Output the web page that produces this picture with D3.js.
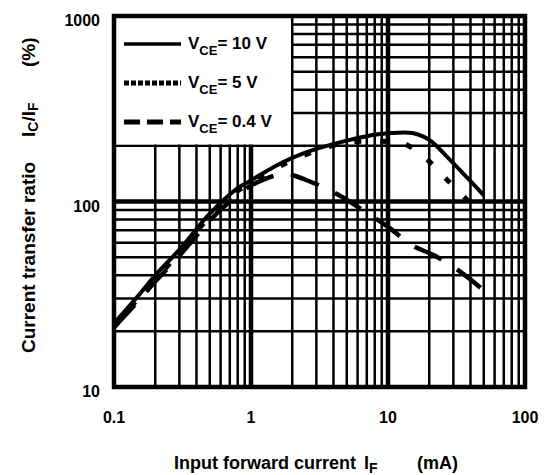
<!DOCTYPE html>
<html><head><meta charset="utf-8">
<script src="https://cdn.jsdelivr.net/npm/d3@7"></script>
<style>
html,body{margin:0;padding:0;background:#fff;}
text{font-family:"Liberation Sans",Arial,sans-serif;font-weight:bold;fill:#000;}
</style></head>
<body>
<svg id="c" width="544" height="475"></svg>
<script>
// ---- data ----
const xTicks = [0.1, 1, 10, 100];
const xTickLabels = ["0.1", "1", "10", "100"];
const yTicks = [10, 100, 1000];
const yTickLabels = ["10", "100", "1000"];

const iF10 = [0.1, 0.15, 0.2, 0.3, 0.5, 0.8, 1, 1.5, 2, 3, 5, 7, 10, 15, 20, 27, 38, 50];
const ctr10 = [22, 31, 40, 55, 86, 118, 130, 155, 172, 192, 213, 225, 233, 234, 215, 174, 134, 108];

const iF5 = [0.1, 0.15, 0.2, 0.3, 0.5, 0.8, 1, 1.5, 2, 3, 5, 8, 13, 19, 27, 40];
const ctr5 = [21, 30, 38, 53, 83, 114, 126, 150, 167, 188, 208, 211, 205, 170, 131, 98];

const iF04 = [0.1, 0.15, 0.2, 0.3, 0.5, 0.7, 1, 1.4, 1.7, 2, 2.5, 3.3, 4.5, 7, 10, 15, 22, 35, 48];
const ctr04 = [21, 29, 37, 51, 79, 100, 122, 136, 142, 139, 131, 120, 107, 87, 73, 58, 51, 41, 34];

const legendLabels = ["10 V", "5 V", "0.4 V"];

// ---- layout ----
const svg = d3.select("#c");
const L = 114, R = 525, T = 16, B = 387;
const x = d3.scaleLog().domain([0.1, 100]).range([L, R]);
const y = d3.scaleLog().domain([10, 1000]).range([B, T]);

const g = svg.append("g");
// minor grid
const minorX = [], minorY = [];
[0.1, 1, 10].forEach(d => { for (let k = 2; k <= 9; k++) minorX.push(d * k); });
[10, 100].forEach(d => { for (let k = 2; k <= 9; k++) minorY.push(d * k); });

g.selectAll(".mx").data(minorX).enter().append("line")
  .attr("x1", d => x(d)).attr("x2", d => x(d)).attr("y1", T).attr("y2", B)
  .attr("stroke", "#000").attr("stroke-width", 2.5);
g.selectAll(".my").data(minorY).enter().append("line")
  .attr("y1", d => y(d)).attr("y2", d => y(d)).attr("x1", L).attr("x2", R)
  .attr("stroke", "#000").attr("stroke-width", 2.5);
// major grid
g.selectAll(".Mx").data([1, 10]).enter().append("line")
  .attr("x1", d => x(d)).attr("x2", d => x(d)).attr("y1", T).attr("y2", B)
  .attr("stroke", "#000").attr("stroke-width", 4.5);
g.selectAll(".My").data([100]).enter().append("line")
  .attr("y1", d => y(d)).attr("y2", d => y(d)).attr("x1", L).attr("x2", R)
  .attr("stroke", "#000").attr("stroke-width", 4.5);

// legend background (covers grid in [0.1,2] x [200,1000])
g.append("rect").attr("x", x(0.1)).attr("y", y(1000))
  .attr("width", x(2) - x(0.1) - 1.25).attr("height", y(200) - y(1000) - 1.25)
  .attr("fill", "#fff");

// frame
g.append("rect").attr("x", L).attr("y", T).attr("width", R - L).attr("height", B - T)
  .attr("fill", "none").attr("stroke", "#000").attr("stroke-width", 4.5);

// curves
const line = d3.line().x(d => x(d[0])).y(d => y(d[1])).curve(d3.curveCatmullRom.alpha(0.5));
const series = [
  {xs: iF10, ys: ctr10, dash: null, w: 4},
  {xs: iF5, ys: ctr5, dash: "7,19", w: 5},
  {xs: iF04, ys: ctr04, dash: "30,18", w: 4.5}
];
series.forEach(s => {
  g.append("path").datum(s.xs.map((v, i) => [v, s.ys[i]]))
    .attr("d", line).attr("fill", "none").attr("stroke", "#000")
    .attr("stroke-width", s.w).attr("stroke-dasharray", s.dash);
});

// legend
const legDash = [null, "5,2", "16,7"];
const legW = [3.5, 5, 5];
const legY = [44, 83, 122];
legendLabels.forEach((lab, i) => {
  g.append("line").attr("x1", 124).attr("x2", 181).attr("y1", legY[i]).attr("y2", legY[i])
    .attr("stroke", "#000").attr("stroke-width", legW[i]).attr("stroke-dasharray", legDash[i]);
  const t = g.append("text").attr("x", 188).attr("y", legY[i] + 5).style("font-size", "17px");
  t.append("tspan").text("V");
  t.append("tspan").attr("dy", 6).style("font-size", "13px").text("CE");
  t.append("tspan").attr("dy", -6).text("= " + lab);
});

// tick labels
svg.selectAll(".xt").data(xTicks).enter().append("text")
  .attr("x", d => x(d)).attr("y", 423).attr("text-anchor", "middle")
  .style("font-size", "16px").text((d, i) => xTickLabels[i]);
svg.selectAll(".yt").data(yTicks).enter().append("text")
  .attr("x", 100).attr("y", d => y(d) + 10).attr("text-anchor", "end")
  .style("font-size", "16px").text((d, i) => yTickLabels[i]);

// axis titles
const xt = svg.append("text").attr("x", 174).attr("y", 469).style("font-size", "18px");
xt.append("tspan").text("Input forward current");
xt.append("tspan").attr("x", 364).text("I");
xt.append("tspan").attr("dy", 4).style("font-size", "14px").text("F");
xt.append("tspan").attr("x", 417).attr("dy", -4).text("(mA)");

const yt = svg.append("text").attr("transform", "translate(35,353) rotate(-90)").style("font-size", "19px");
yt.append("tspan").attr("x", 0).text("Current transfer ratio");
yt.append("tspan").attr("x", 216).text("I");
yt.append("tspan").attr("dy", 3).style("font-size", "14px").text("C");
yt.append("tspan").attr("dy", -3).text("/I");
yt.append("tspan").attr("dy", 3).style("font-size", "14px").text("F");
yt.append("tspan").attr("x", 286).attr("dy", -3).text("(%)");
</script>
</body></html>
